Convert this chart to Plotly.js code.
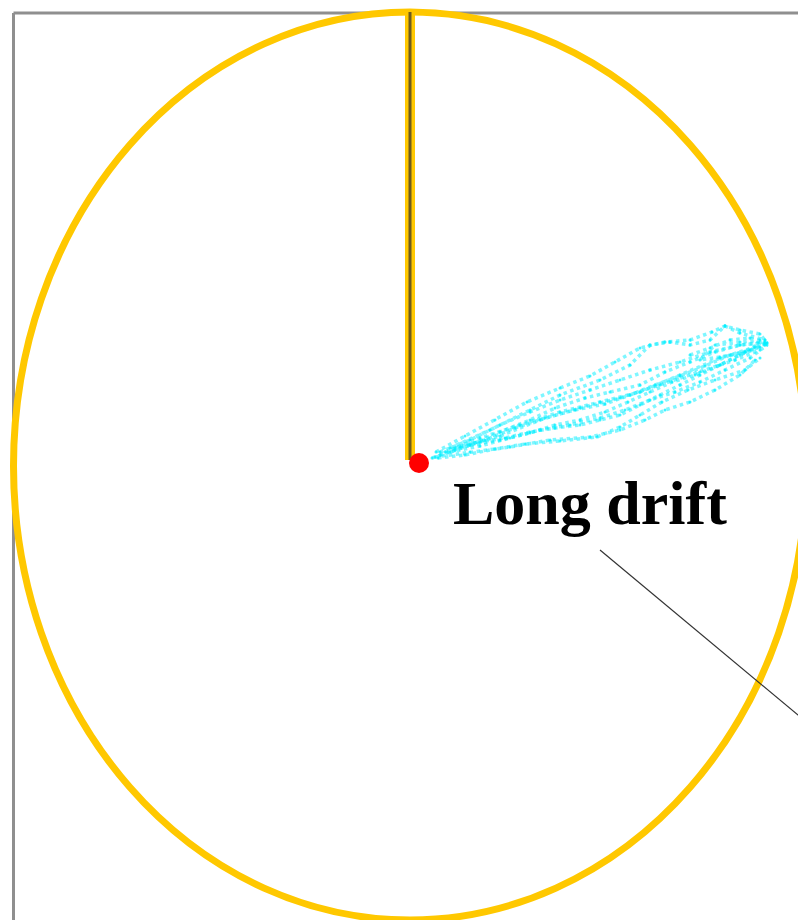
<!DOCTYPE html>
<html>
<head>
<meta charset="utf-8">
<script src="https://cdn.plot.ly/plotly-3.0.1.min.js"></script>
<style>html,body{margin:0;padding:0;background:#fff;}#chart{width:798px;height:920px;}</style>
</head>
<body>
<div id="chart"></div>
<script>
// Arena geometry (data units, centre of arena = 0,0)
const arenaX = [-396.5, 396.5];
const arenaY = [-454, 454];
const viewX = [-410, 388];
const viewY = [-454, 466];

// Heading marker (vertical bar from centre to top of arena)
const headingX = [0, 0];
const headingY = [6, 454];

// Start point (red)
const startX = [9];
const startY = [3];

// Drift tracks (cyan)
const trackAx = [22,45,70,95,120,145,170,190,210,230,250,270,290,310,330,350];
const trackAy = [8,16,24,28,34,38,41,46,51,61,71,81,91,101,111,119];
const trackBx = [30,60,90,120,150,180,210,240,270,300,330,355];
const trackBy = [14,26,41,54,66,76,86,96,104,114,121,124];
const trackCx = [40,80,120,150,190,220,240,260,280,300,315,330,355];
const trackCy = [18,36,56,71,86,101,121,124,121,126,140,133,126];
const trackDx = [25,60,100,140,180,210,235,255,280,305,330,345];
const trackDy = [9,14,19,26,29,36,46,56,64,76,91,106];
const trackEx = [35,70,110,150,190,230,270,310,340,357];
const trackEy = [14,28,41,54,64,74,91,108,116,123];
const trackFx = [50,90,130,170,210,250,290,325,350];
const trackFy = [19,30,46,58,68,81,94,106,116];
const trackGx = [26,55,85,117,150,180,205,230,255,280,302,315,330,350,357];
const trackGy = [14,30,46,64,78,90,104,118,124,126,134,140,136,132,123];
const trackHx = [30,60,90,120,145,175,200,230,255,280,305,330,355];
const trackHy = [11,21,34,46,58,68,74,81,94,104,114,121,123];
const trackIx = [28,55,85,115,150,187,210,230,252,278,305,335,350];
const trackIy = [8,11,17,22,25,29,39,51,64,76,86,96,108];
const trackJx = [40,70,100,130,160,190,215,240,265,290,315,340,357];
const trackJy = [14,20,28,36,41,48,56,66,74,84,96,108,121];
const trackKx = [45,75,105,135,165,195,220,245,270,295,320,345];
const trackKy = [18,26,38,48,56,62,71,81,90,100,111,119];
const trackLx = [60,90,120,145,170,195,218,240,262,285,310,335,355];
const trackLy = [21,26,33,41,46,54,64,74,84,91,101,114,126];
const trackMx = [280,300,320,340,355,335,310,290,305,330,350];
const trackMy = [111,118,126,128,121,114,109,106,121,124,126];

// Annotation
const labelText = "Long drift";
const labelPos = [180, -37];
const pointerLine = [[190, -84], [490, -334]];

const tracks = [
  [trackAx,trackAy],[trackBx,trackBy],[trackCx,trackCy],[trackDx,trackDy],
  [trackEx,trackEy],[trackFx,trackFy],[trackGx,trackGy],[trackHx,trackHy],
  [trackIx,trackIy],[trackJx,trackJy],[trackKx,trackKy],[trackLx,trackLy],[trackMx,trackMy]
];

const data = [];
tracks.forEach(t => {
  data.push({x: t[0], y: t[1], type: 'scatter', mode: 'lines', hoverinfo: 'skip',
    line: {color: 'rgba(0,238,255,0.5)', width: 3.5, dash: 'dot', shape: 'linear'}, showlegend: false});
  data.push({x: t[0], y: t[1], type: 'scatter', mode: 'markers', hoverinfo: 'skip',
    marker: {color: 'rgba(0,240,255,0.75)', size: 3}, showlegend: false});
});
data.push({x: headingX, y: headingY, type: 'scatter', mode: 'lines', line: {color: '#ffc800', width: 10}, showlegend: false, hoverinfo: 'skip'});
data.push({x: headingX, y: headingY, type: 'scatter', mode: 'lines', line: {color: '#6e5c1e', width: 3}, showlegend: false, hoverinfo: 'skip'});
data.push({x: startX, y: startY, type: 'scatter', mode: 'markers', marker: {color: '#ff0000', size: 20}, showlegend: false, hoverinfo: 'skip'});

const layout = {
  width: 798, height: 920,
  margin: {l: 0, r: 0, t: 0, b: 0, pad: 0},
  paper_bgcolor: '#ffffff', plot_bgcolor: '#ffffff',
  showlegend: false,
  xaxis: {range: viewX, visible: false, showgrid: false, zeroline: false, fixedrange: true},
  yaxis: {range: viewY, visible: false, showgrid: false, zeroline: false, fixedrange: true},
  shapes: [
    {type: 'line', xref: 'x', yref: 'y', layer: 'below', x0: arenaX[0], x1: arenaX[0], y0: -600, y1: arenaY[1] - 1,
      line: {color: '#8f8f8f', width: 3}},
    {type: 'line', xref: 'x', yref: 'y', layer: 'below', x0: arenaX[0], x1: 600, y0: arenaY[1] - 1, y1: arenaY[1] - 1,
      line: {color: '#8f8f8f', width: 3}},
    {type: 'circle', xref: 'x', yref: 'y', layer: 'below', x0: arenaX[0], x1: arenaX[1], y0: arenaY[0], y1: arenaY[1],
      line: {color: '#ffc800', width: 7}},
    {type: 'line', xref: 'x', yref: 'y', layer: 'above', x0: pointerLine[0][0], y0: pointerLine[0][1], x1: pointerLine[1][0], y1: pointerLine[1][1],
      line: {color: '#333333', width: 1.2}}
  ],
  annotations: [
    {x: labelPos[0], y: labelPos[1], xref: 'x', yref: 'y', text: '<b>' + labelText + '</b>', showarrow: false,
      font: {family: 'Liberation Serif, serif', size: 62, color: '#000000'}}
  ]
};

Plotly.newPlot('chart', data, layout, {displayModeBar: false, staticPlot: true});
</script>
</body>
</html>
